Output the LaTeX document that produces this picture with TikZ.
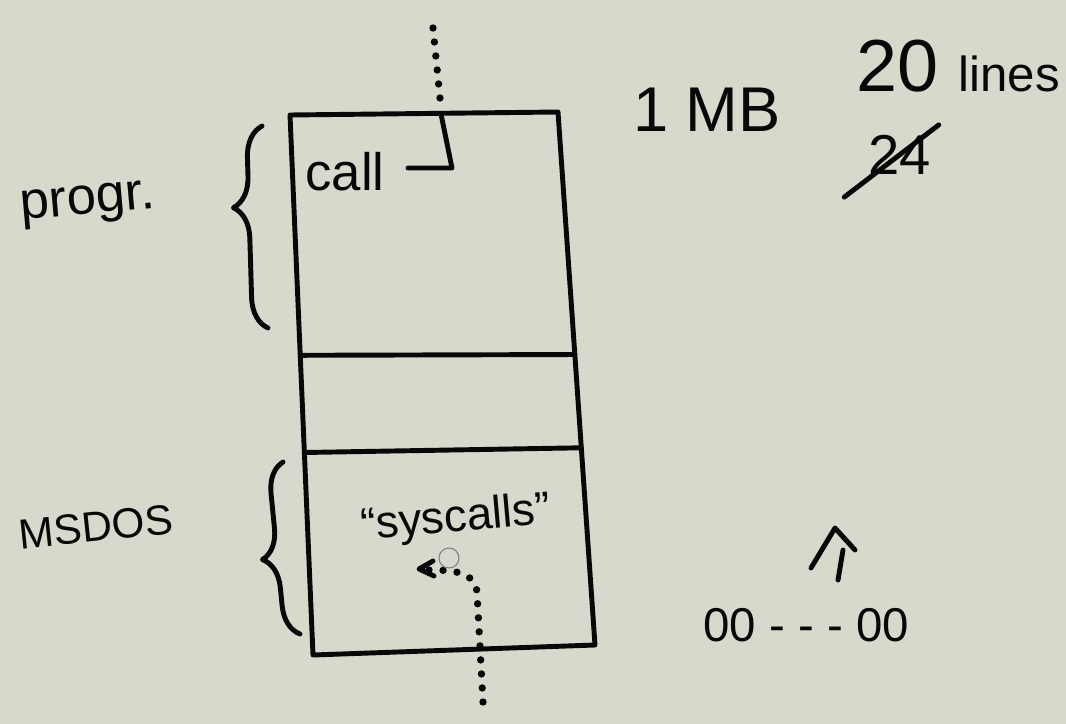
\documentclass[tikz,border=0pt]{standalone}
\usepackage{fontspec}
\setmainfont{Liberation Sans}
\usetikzlibrary{calc,decorations.pathreplacing}

\definecolor{paper}{RGB}{217,216,204}
\definecolor{ink}{RGB}{8,8,8}

\begin{document}
\begin{tikzpicture}[x=0.02cm,y=-0.02cm,line width=2.8pt,line cap=round,line join=round,
    ink/.style={draw=ink},
    hand/.style={text=ink,inner sep=0pt,font=\fontsize{#1}{#1}\selectfont},
    hand/.default=30,
    dotline/.style={draw=ink,line width=4.2pt,dash pattern=on 0pt off 8pt},
    curly/.style={draw=ink,decorate,decoration={brace,amplitude=#1}}]
        \fill[paper] (0,0) rectangle (1066,724);

        % the memory column
        \coordinate (tl) at (290,115);
        \coordinate (tr) at (558,112);
        \coordinate (br) at (595,645);
        \coordinate (bl) at (313,655);
        \draw[ink] (tl) -- (tr) -- (br) -- (bl) -- cycle;
        \draw[ink] ($(tl)!0.445!(bl)$) -- ($(tr)!0.455!(br)$);
        \draw[ink] ($(tl)!0.625!(bl)$) -- ($(tr)!0.63!(br)$);

        % program part
        \node[hand=30] (call) at (345,172) {call};
        \coordinate (calltop) at (441,114);
        \coordinate (callbend) at (452,168);
        \draw[ink] (calltop) -- (callbend) -- ([xshift=12]call.east |- callbend);
        \coordinate (dotstart) at (433,28);
        \coordinate (dotend) at (440,98);
        \draw[dotline] (dotstart) -- (dotend);
        \coordinate (progtop) at (262,126);
        \coordinate (progbot) at (268,328);
        \draw[curly=0.62cm,decoration={aspect=0.6}] (progbot) -- (progtop);
        \node[hand=30,rotate=5] (progr) at (88,205) {progr.};

        % os part
        \node[hand=26,rotate=5] (sysc) at (456,520) {“syscalls”};
        \coordinate (sysbot) at (483,702);
        \coordinate (sysup) at (477,592);
        \coordinate (systip) at (421,570);
        \draw[dotline] (sysbot) -- (sysup) to[out=95,in=0] (systip);
        \draw[ink] (433,561) -- (419,569) -- (434,576);
        \draw[gray,line width=0.6pt] (449,558) circle (10);
        \coordinate (dostop) at (283,462);
        \coordinate (dosbot) at (300,634);
        \draw[curly=0.6cm,decoration={aspect=0.45}] (dosbot) -- (dostop);
        \node[hand=24,rotate=6] (msdos) at (96,527) {MSDOS};

        % notes on the right
        \node[hand=36] (mb) at (707,110) {1 MB};
        \node[hand=34] (lines) at (958,66) {\fontsize{42}{42}\selectfont 20 \fontsize{28}{28}\selectfont lines};
        \node[hand=32] (old) at (900,155) {24};
        \draw[ink] (old.south west) ++(-22,20) coordinate (strikea) -- ([shift={(5,-8)}]old.north east) coordinate (strikeb);
        \node[hand=27] (addr) at (806,625) {00 - - - 00};
        \coordinate (upbot) at (838,580);
        \coordinate (uptop) at (843,550);
        \draw[ink] (upbot) -- (uptop);
        \draw[ink] (811,568) -- (835,528) -- (855,550);
\end{tikzpicture}
\end{document}
